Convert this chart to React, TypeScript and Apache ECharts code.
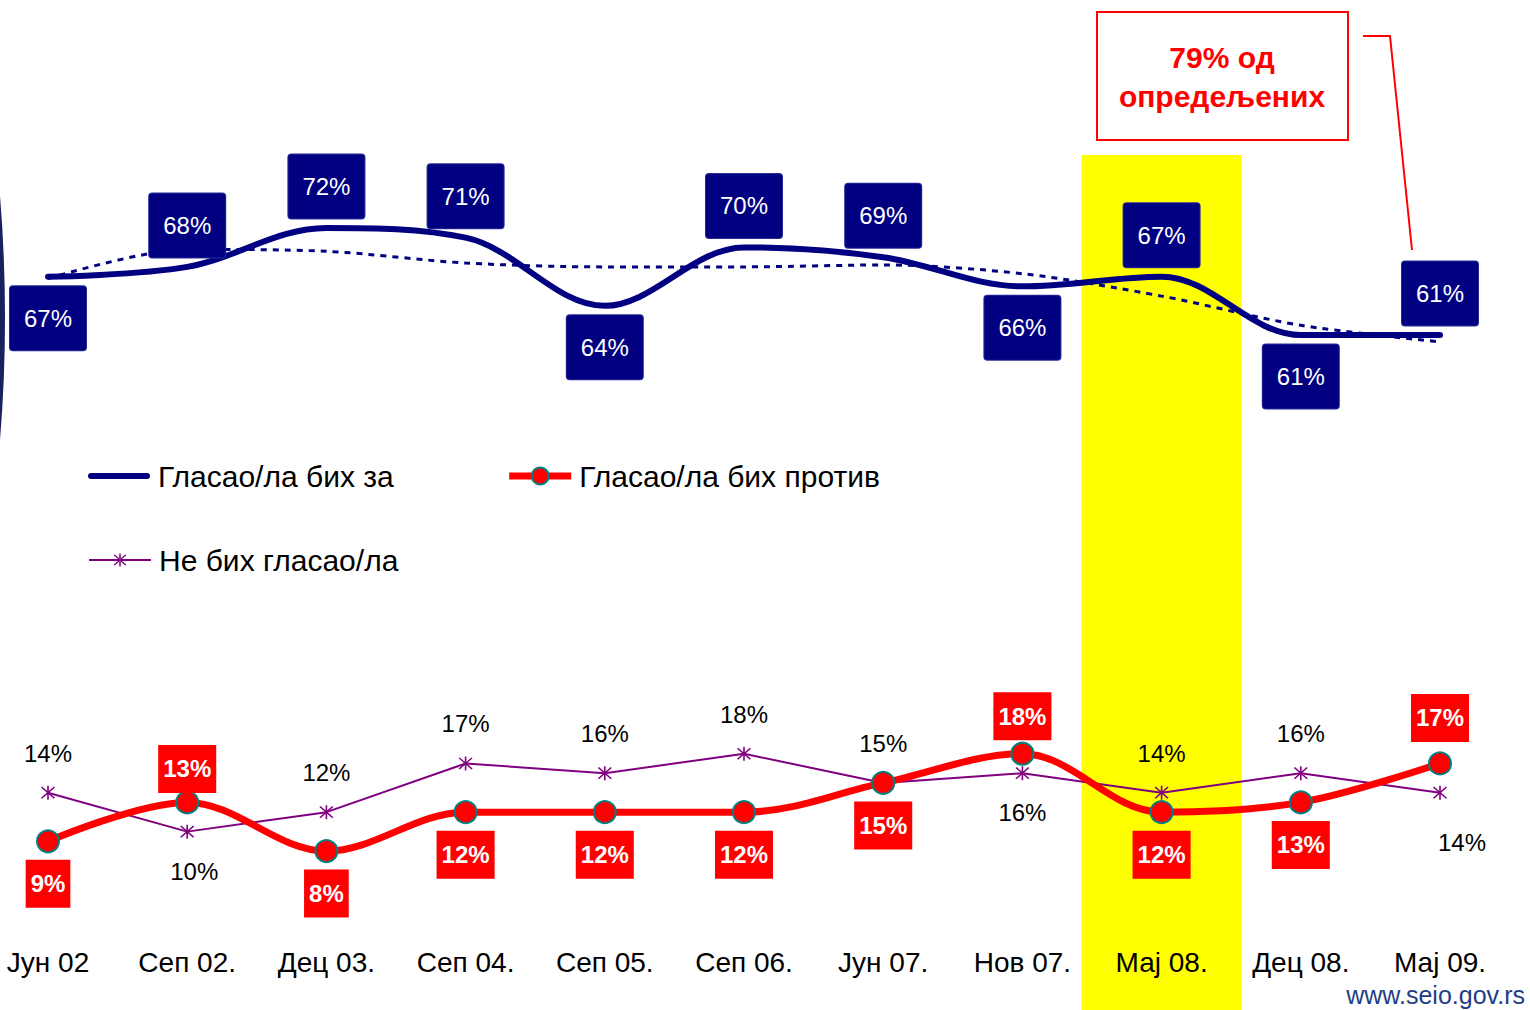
import React, { useEffect, useRef } from "react";
import * as echarts from "echarts";

const categories = ["Јун 02", "Сеп 02.", "Дец 03.", "Сеп 04.", "Сеп 05.", "Сеп 06.", "Јун 07.", "Нов 07.", "Мај 08.", "Дец 08.", "Мај 09."];
const forValues = [67, 68, 72, 71, 64, 70, 69, 66, 67, 61, 61];
const againstValues = [9, 13, 8, 12, 12, 12, 15, 18, 12, 13, 17];
const abstainValues = [14, 10, 12, 17, 16, 18, 15, 16, 14, 16, 14];
const forTrend = [66.8, 69.8, 69.6, 68.4, 68.0, 68.0, 68.2, 67.3, 65.0, 62.0, 60.3];

const seriesNames = ["Гласао/ла бих за", "Гласао/ла бих против", "Не бих гласао/ла"];
const highlightCategory = "Мај 08.";
const calloutText = "79% од\nопредељених";
const footerText = "www.seio.gov.rs";

// label placement (style only)
const forLabelSide = ["bottom", "top", "top", "top", "bottom", "top", "top", "bottom", "top", "bottom", "top"];
const againstLabelSide = ["bottom", "top", "bottom", "bottom", "bottom", "bottom", "bottom", "top", "bottom", "bottom", "top"];
const againstLabelGap = [18, 9, 18, 18, 18, 18, 18, 13, 18, 18, 21];
const abstainLabelSide = ["top", "bottom", "top", "top", "top", "top", "top", "bottom", "top", "top", "bottom"];
const abstainLabelShift = [[0, 0], [7, 0], [0, 0], [0, 0], [0, 0], [0, 0], [0, 0], [0, 0], [0, 0], [0, 0], [22, 10]];

const FONT = "'Liberation Sans', Arial, Helvetica, sans-serif";
const NAVY = "#000080";
const RED = "#FF0000";
const PURPLE = "#800080";

const asterisk =
  "path://M9 0 L11 0 L11 20 L9 20 Z M1.3 2.7 L2.7 1.3 L18.7 17.3 L17.3 18.7 Z M17.3 1.3 L18.7 2.7 L2.7 18.7 L1.3 17.3 Z";
const thickLine = "path://M3 0 L59 0 A3 3 0 0 1 59 6 L3 6 A3 3 0 0 1 3 0 Z";

export default function App() {
  const ref = useRef<HTMLDivElement>(null);

  useEffect(() => {
    if (!ref.current) return;
    const chart = echarts.init(ref.current, null, { renderer: "svg" });

    const legendText = { fontSize: 30, color: "#000", fontFamily: FONT, padding: [0, 0, 0, 3] };

    const option: any = {
      animation: false,
      backgroundColor: "#ffffff",
      textStyle: { fontFamily: FONT },
      grid: { left: 48, right: 90, top: 4, bottom: 81 },
      xAxis: {
        type: "category",
        data: categories,
        boundaryGap: false,
        axisLine: { show: false },
        axisTick: { show: false },
        splitLine: { show: false },
        axisLabel: { fontSize: 28, color: "#000", fontFamily: FONT, margin: 19, interval: 0 },
      },
      yAxis: { type: "value", min: 0, max: 95, show: false, splitLine: { show: false } },
      legend: [
        {
          data: [{ name: seriesNames[0], icon: thickLine }, seriesNames[1]],
          left: 88,
          top: 461,
          padding: 0,
          itemWidth: 62,
          itemHeight: 21,
          itemGap: 112,
          selectedMode: false,
          lineStyle: { width: "inherit" },
          textStyle: legendText,
        },
        {
          data: [seriesNames[2]],
          left: 88,
          top: 545,
          padding: 0,
          itemWidth: 62,
          itemHeight: 16,
          selectedMode: false,
          lineStyle: { width: "inherit" },
          textStyle: legendText,
        },
      ],
      series: [
        {
          name: "trend",
          type: "line",
          data: forTrend,
          smooth: 0.3,
          symbol: "none",
          silent: true,
          z: 2,
          lineStyle: { color: NAVY, width: 3, type: [6, 6] },
        },
        {
          name: seriesNames[0],
          type: "line",
          data: forValues,
          smooth: 0.35,
          symbol: "none",
          silent: true,
          z: 3,
          itemStyle: { color: NAVY },
          lineStyle: { color: NAVY, width: 6, cap: "round" },
        },
        {
          name: seriesNames[2],
          type: "line",
          data: abstainValues,
          symbol: asterisk,
          symbolSize: 14,
          silent: true,
          z: 3,
          itemStyle: { color: PURPLE },
          lineStyle: { color: PURPLE, width: 2 },
        },
        {
          name: seriesNames[1],
          type: "line",
          data: againstValues,
          smooth: 0.35,
          symbol: "circle",
          symbolSize: 22,
          silent: true,
          z: 4,
          itemStyle: { color: RED, borderColor: "#008080", borderWidth: 2 },
          lineStyle: { color: RED, width: 7 },
        },
        {
          name: "forLabels",
          type: "scatter",
          data: forValues.map((v, i) => ({ value: v, label: { position: forLabelSide[i] } })),
          symbolSize: 1,
          silent: true,
          z: 6,
          itemStyle: { color: "rgba(0,0,0,0)", opacity: 1 },
          label: {
            show: true,
            formatter: "{c}%",
            distance: 9,
            color: "#fff",
            fontSize: 24,
            lineHeight: 24,
            fontFamily: FONT,
            backgroundColor: NAVY,
            borderRadius: 3,
            borderColor: "#2a2a98",
            borderWidth: 1,
            padding: [20, 14],
          },
        },
        {
          name: "againstLabels",
          type: "scatter",
          data: againstValues.map((v, i) => ({
            value: v,
            label: { position: againstLabelSide[i], distance: againstLabelGap[i] },
          })),
          symbolSize: 1,
          silent: true,
          z: 6,
          itemStyle: { color: "rgba(0,0,0,0)", opacity: 1 },
          label: {
            show: true,
            formatter: "{c}%",
            color: "#fff",
            fontSize: 24,
            fontWeight: "bold",
            lineHeight: 24,
            fontFamily: FONT,
            backgroundColor: RED,
            padding: [12, 5],
          },
        },
        {
          name: "abstainLabels",
          type: "scatter",
          data: abstainValues.map((v, i) => ({
            value: v,
            label: { position: abstainLabelSide[i], offset: abstainLabelShift[i] },
          })),
          symbolSize: 1,
          silent: true,
          z: 6,
          itemStyle: { color: "rgba(0,0,0,0)", opacity: 1 },
          label: {
            show: true,
            formatter: "{c}%",
            distance: 27,
            color: "#000",
            fontSize: 24,
            lineHeight: 24,
            fontFamily: FONT,
          },
        },
      ],
    };

    chart.setOption(option);

    const idx = categories.indexOf(highlightCategory);
    const cx = chart.convertToPixel({ xAxisIndex: 0 }, idx) as number;
    const next = chart.convertToPixel({ xAxisIndex: 0 }, idx + 1) as number;
    const bandW = (next - cx) * 1.15;

    chart.setOption({
      graphic: [
        {
          type: "rect",
          z: -10,
          silent: true,
          shape: { x: cx - bandW / 2, y: 155, width: bandW, height: 1010 - 155 },
          style: { fill: "#FFFF00" },
        },
        {
          type: "ellipse",
          z: -5,
          silent: true,
          shape: { cx: -300, cy: 318, rx: 302.5, ry: 666 },
          style: { fill: "none", stroke: "#1a1f5e", lineWidth: 5 },
        },
        {
          type: "rect",
          z: 10,
          silent: true,
          shape: { x: 1097, y: 12, width: 251, height: 128 },
          style: { fill: "#fff", stroke: RED, lineWidth: 2 },
        },
        {
          type: "text",
          z: 11,
          silent: true,
          x: 1222,
          y: 77,
          style: {
            text: calloutText,
            fill: RED,
            font: `bold 30px ${FONT}`,
            align: "center",
            verticalAlign: "middle",
            lineHeight: 39,
          },
        },
        {
          type: "polyline",
          z: 10,
          silent: true,
          shape: { points: [[1363, 36], [1390, 36], [1412, 250]] },
          style: { stroke: RED, lineWidth: 2, fill: "none" },
        },
        {
          type: "text",
          z: 11,
          silent: true,
          x: 1525,
          y: 995,
          style: {
            text: footerText,
            fill: "#1F3C88",
            font: `25px ${FONT}`,
            align: "right",
            verticalAlign: "middle",
          },
        },
      ],
    });

    return () => chart.dispose();
  }, []);

  return (
    <div
      ref={ref}
      style={{ position: "fixed", left: 0, top: 0, width: 1530, height: 1010, background: "#fff" }}
    />
  );
}
